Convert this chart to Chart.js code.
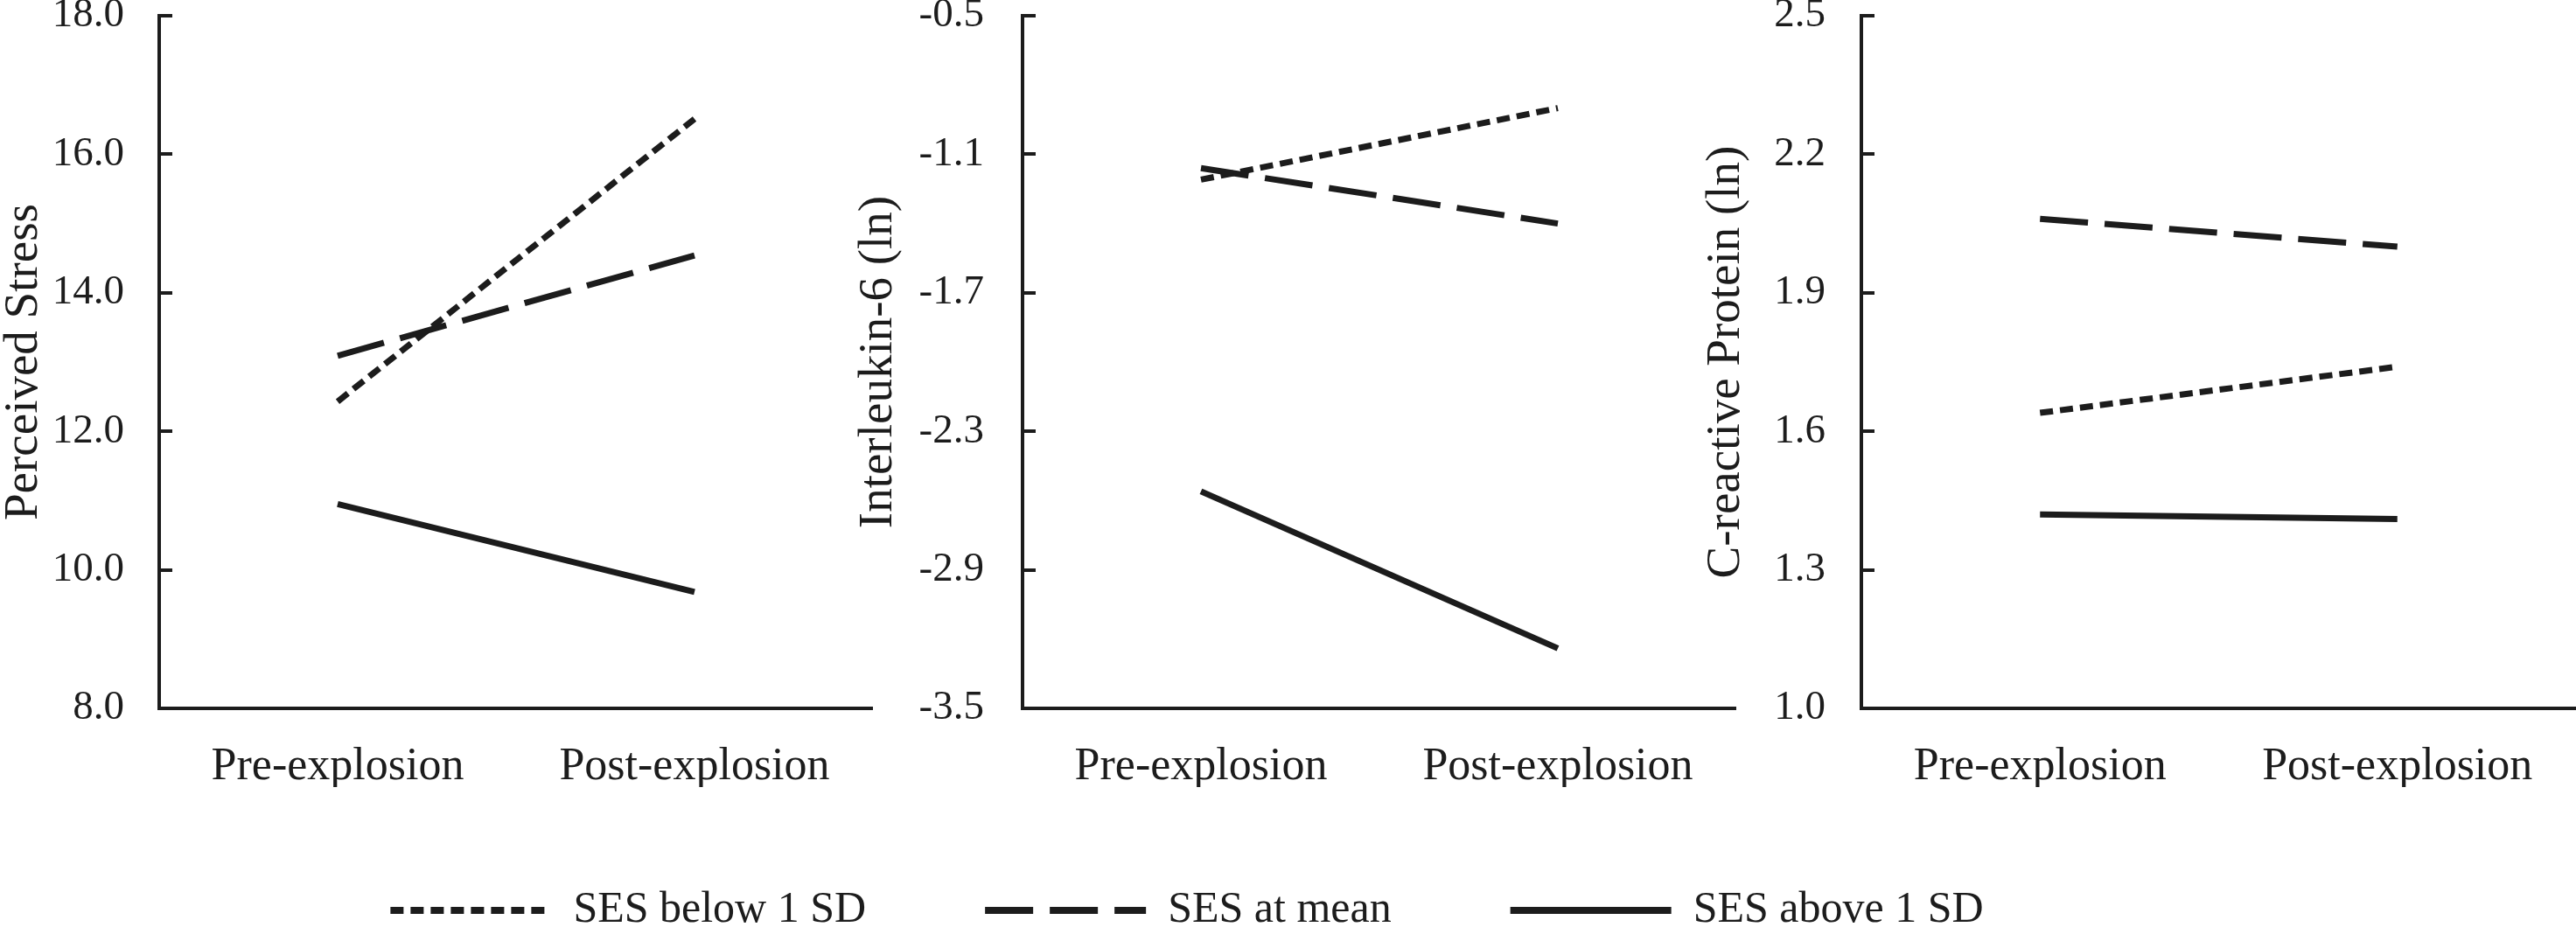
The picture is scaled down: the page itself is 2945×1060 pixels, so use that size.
<!DOCTYPE html>
<html>
<head>
  <meta charset="UTF-8">
  <title>SES and stress / inflammation</title>
  <script src="https://cdn.jsdelivr.net/npm/chart.js"></script>
  <style>
    body { margin: 0; background: #fff; }
    #wrap { position: relative; width: 2945px; height: 1060px; overflow: hidden; }
    canvas { position: absolute; top: 0; }
  </style>
</head>
<body>
<div id="wrap">
  <canvas id="legendChart" width="2714" height="420" style="left:0;top:880px"></canvas>
  <canvas id="stressChart" width="998" height="900" style="left:0"></canvas>
  <canvas id="il6Chart" width="1008" height="900" style="left:977px"></canvas>
  <canvas id="crpChart" width="999" height="900" style="left:1946px"></canvas>
</div>

<script>
  const categories = ['Pre-explosion', 'Post-explosion'];
  const seriesNames = ['SES below 1 SD', 'SES at mean', 'SES above 1 SD'];

  const stressBelow = [12.43, 16.51];
  const stressMean = [13.09, 14.54];
  const stressAbove = [10.95, 9.68];
  const stressTicks = [8.0, 10.0, 12.0, 14.0, 16.0, 18.0];

  const il6Below = [-1.21, -0.90];
  const il6Mean = [-1.16, -1.40];
  const il6Above = [-2.56, -3.24];
  const il6Ticks = [-3.5, -2.9, -2.3, -1.7, -1.1, -0.5];

  const crpBelow = [1.64, 1.74];
  const crpMean = [2.06, 2.00];
  const crpAbove = [1.42, 1.41];
  const crpTicks = [1.0, 1.3, 1.6, 1.9, 2.2, 2.5];

  const ink = '#1c1c1c';
  const serif = "'Liberation Serif', 'Times New Roman', serif";
  const dashes = [[15, 8], [55, 19], []];

  Chart.defaults.font.family = serif;
  Chart.defaults.color = ink;

  // short tick marks pointing into the plot, like the original
  const innerTicks = {
    id: 'innerTicks',
    afterDraw(chart) {
      const y = chart.scales.y;
      const ctx = chart.ctx;
      const left = chart.chartArea.left;
      ctx.save();
      ctx.strokeStyle = ink;
      ctx.lineWidth = 4;
      y.ticks.forEach(t => {
        const py = Math.round(y.getPixelForValue(t.value));
        ctx.beginPath();
        ctx.moveTo(left, py);
        ctx.lineTo(left + 15, py);
        ctx.stroke();
      });
      ctx.restore();
    }
  };

  function makePanel(id, title, below, mean, above, ticks, axisWidth, gap) {
    const sets = [below, mean, above].map((d, i) => ({
      label: seriesNames[i],
      data: d,
      borderColor: ink,
      borderWidth: 7,
      borderDash: dashes[i],
      pointRadius: 0,
      fill: false
    }));
    return new Chart(document.getElementById(id), {
      type: 'line',
      data: { labels: categories, datasets: sets },
      plugins: [innerTicks],
      options: {
        responsive: false,
        animation: false,
        devicePixelRatio: 1,
        layout: { padding: { top: 18, right: 0, left: 0, bottom: 0 } },
        plugins: { legend: { display: false }, tooltip: { enabled: false } },
        scales: {
          x: {
            offset: true,
            grid: { display: false },
            border: { color: ink, width: 4 },
            ticks: { color: ink, padding: 28, font: { family: serif, size: 52 } },
            afterFit(s) { s.height = 90; }
          },
          y: {
            min: ticks[0],
            max: ticks[ticks.length - 1],
            // gap between labels and axis comes from the (hidden) tick length
            grid: { display: false, drawTicks: true, tickLength: gap },
            border: { color: ink, width: 4 },
            afterBuildTicks(s) { s.ticks = ticks.map(v => ({ value: v })); },
            afterFit(s) { s.width = axisWidth; },
            ticks: {
              color: ink,
              padding: 0,
              font: { family: serif, size: 47, lineHeight: 0.7 },
              callback: v => Number(v).toFixed(1)
            },
            title: {
              display: true,
              text: title,
              color: ink,
              padding: 0,
              font: { family: serif, size: 55, lineHeight: 1 }
            }
          }
        }
      }
    });
  }

  makePanel('stressChart', 'Perceived Stress', stressBelow, stressMean, stressAbove, stressTicks, 182, 40);
  makePanel('il6Chart', 'Interleukin-6 (ln)', il6Below, il6Mean, il6Above, il6Ticks, 192, 44);
  makePanel('crpChart', 'C-reactive Protein (ln)', crpBelow, crpMean, crpAbove, crpTicks, 182, 41);

  // shared legend along the bottom
  new Chart(document.getElementById('legendChart'), {
    type: 'line',
    data: {
      labels: categories,
      datasets: seriesNames.map((n, i) => ({ label: n, data: [], borderColor: ink, borderDash: dashes[i] }))
    },
    options: {
      responsive: false,
      animation: false,
      devicePixelRatio: 1,
      scales: { x: { display: false }, y: { display: false } },
      plugins: {
        tooltip: { enabled: false },
        legend: {
          position: 'top',
          maxHeight: 400,
          labels: {
            usePointStyle: true,
            pointStyleWidth: 184,
            padding: 136,
            color: ink,
            font: { family: serif, size: 50 },
            generateLabels: () => seriesNames.map((n, i) => ({
              text: n,
              fontColor: ink,
              strokeStyle: ink,
              fillStyle: ink,
              lineWidth: 8,
              lineDash: dashes[i],
              lineCap: 'butt',
              pointStyle: 'line',
              datasetIndex: i
            }))
          }
        }
      }
    }
  });
</script>
</body>
</html>
